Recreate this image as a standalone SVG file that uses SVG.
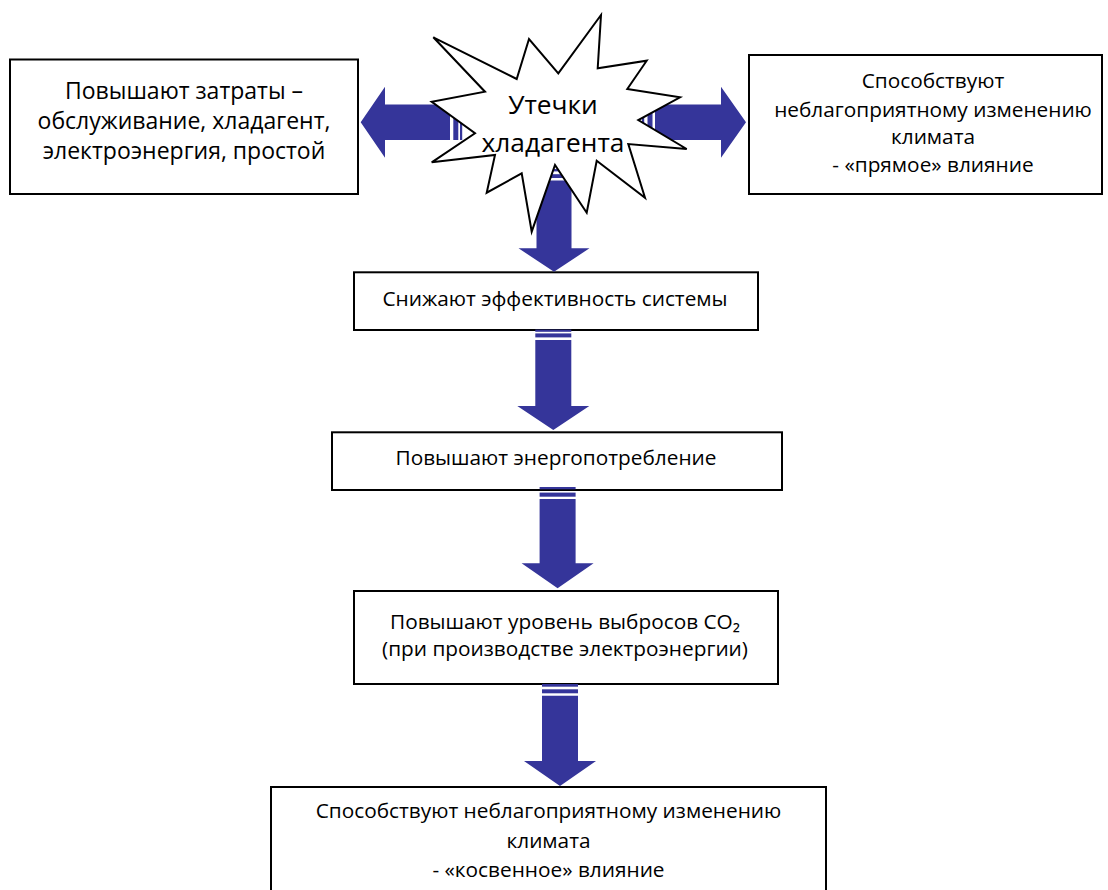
<svg xmlns="http://www.w3.org/2000/svg" width="1108" height="890" viewBox="0 0 1108 890">
<style>
.box{fill:#fff;stroke:#000;stroke-width:2}
.star{fill:#fff;stroke:#000;stroke-width:2;stroke-linejoin:miter}
.arr{fill:#35359A}
text{font-family:"Open Sans","Noto Sans","DejaVu Sans",sans-serif;fill:#000;text-anchor:middle}
.t20{font-size:20.8px}
.t21{font-size:23px}
.t26{font-size:26.3px}
</style>
<rect width="1108" height="890" fill="#fff"/>

<g id="box-costs">
<rect class="box" x="10" y="59.5" width="348" height="134.5"/>
<text class="t21" x="184" y="99">Повышают затраты –</text>
<text class="t21" x="184" y="129">обслуживание, хладагент,</text>
<text class="t21" x="184" y="159">электроэнергия, простой</text>
</g>

<g id="box-direct">
<rect class="box" x="749" y="55" width="353" height="139"/>
<text class="t20" x="933" y="88">Способствуют</text>
<text class="t20" x="933" y="116.5">неблагоприятному изменению</text>
<text class="t20" x="933" y="144">климата</text>
<text class="t20" x="933" y="171.5">- «прямое» влияние</text>
</g>

<g id="box-efficiency">
<rect class="box" x="354" y="272.3" width="404" height="57.7"/>
<text class="t20" x="555" y="306">Снижают эффективность системы</text>
</g>

<g id="box-energy">
<rect class="box" x="332" y="432.3" width="450" height="57.7"/>
<text class="t20" x="556" y="465">Повышают энергопотребление</text>
</g>

<g id="box-co2">
<rect class="box" x="354" y="591" width="424" height="93"/>
<text class="t20" x="565" y="629">Повышают уровень выбросов CO₂</text>
<text class="t20" x="565" y="656">(при производстве электроэнергии)</text>
</g>

<g id="box-indirect">
<rect class="box" x="271" y="787" width="555" height="106"/>
<text class="t20" x="548.5" y="818">Способствуют неблагоприятному изменению</text>
<text class="t20" x="548.5" y="848">климата</text>
<text class="t20" x="548.5" y="877">- «косвенное» влияние</text>
</g>

<g id="connectors">
<g id="arrow-left" class="arr">
<polygon points="360.7,122.2 385,86.7 385,104.4 450,104.4 450,140 385,140 385,157.7"/>
<rect x="453.3" y="104.4" width="5" height="35.6"/>
<rect x="460" y="104.4" width="2.2" height="35.6"/>
</g>
<g id="arrow-right" class="arr">
<polygon points="746,122.2 721,86.7 721,104.4 655,104.4 655,140 721,140 721,157.7"/>
<rect x="647.5" y="104.4" width="5" height="35.6"/>
<rect x="642" y="104.4" width="2.2" height="35.6"/>
</g>
<g id="arrow-down-1" class="arr">
<polygon points="536.5,180.5 571.5,180.5 571.5,248.3 589.5,248.3 554,271.7 518.5,248.3 536.5,248.3"/>
<rect x="536.5" y="174.2" width="35" height="3.8"/>
<rect x="536.5" y="169" width="35" height="2.4"/>
</g>
<g id="arrow-down-2" class="arr">
<polygon points="535.3,340 571.3,340 571.3,406 589.3,406 553.3,430 517.3,406 535.3,406"/>
<rect x="535.3" y="333.4" width="36" height="4"/>
<rect x="535.3" y="329.6" width="36" height="2.2"/>
</g>
<g id="arrow-down-3" class="arr">
<polygon points="539.6,499 575.6,499 575.6,563.3 593.6,563.3 557.6,588.3 521.6,563.3 539.6,563.3"/>
<rect x="539.6" y="492.6" width="36" height="4.1"/>
<rect x="539.6" y="487" width="36" height="2.3"/>
</g>
<g id="arrow-down-4" class="arr">
<polygon points="542,695.7 578,695.7 578,761 596,761 560,786 524,761 542,761"/>
<rect x="542" y="689.3" width="36" height="4"/>
<rect x="542" y="684" width="36" height="2.7"/>
</g>
</g>

<g id="star-leak">
<polygon class="star" points="433.3,37.3 516.7,79 529,39 558.3,73.3 601,15 597.7,68.3 646.7,60.7 627.3,89 680,97.3 638.3,120 686.7,149 628.3,144 645,197.7 596.7,160.7 586.7,212.7 555,165 531.7,231.7 521.7,173.3 486.7,192.7 495,155 431.7,162.3 475,133.3 431.7,101.7 485,91.7"/>
<text class="t26" x="553" y="114">Утечки</text>
<text class="t26" x="553" y="152">хладагента</text>
</g>
</svg>
